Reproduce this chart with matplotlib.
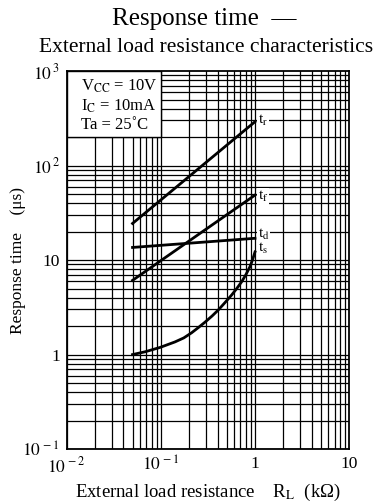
import numpy as np
import matplotlib
matplotlib.use("Agg")
import matplotlib.pyplot as plt
from matplotlib.patches import Rectangle

plt.rcParams['font.family'] = ['Liberation Serif', 'DejaVu Serif']
plt.rcParams['mathtext.fontset'] = 'stix'

# Load resistance (kOhm) and response times (us)
r_lin = [0.05, 1.0]
t_r = [24.4, 291.0]
t_f = [6.1, 48.7]
t_d = [13.6, 17.0]
r_s = [0.05, 0.068, 0.098, 0.141, 0.175, 0.212, 0.25, 0.294, 0.35, 0.407,
       0.48, 0.565, 0.64, 0.721, 0.8, 0.883, 0.94, 1.0]
t_s = [1.0, 1.07, 1.19, 1.36, 1.50, 1.70, 1.93, 2.2, 2.56, 2.96,
       3.55, 4.27, 5.0, 5.89, 7.0, 8.49, 10.0, 12.2]

x_ticks = [0.01, 0.1, 1, 10]
x_labels = [r'$10^{\,-2}$', r'$10^{\,-1}$', '1', '10']
y_ticks = [0.1, 1, 10, 100, 1000]
y_labels = [r'$10^{\,-1}$', '1', '10', r'$10^{\,2}$', r'$10^{\,3}$']

fig = plt.figure(figsize=(3.75, 5.04), dpi=100)
ax = fig.add_axes([0.178, 0.109, 0.753, 0.750])
ax.set_xscale('log')
ax.set_yscale('log')
ax.set_xlim(0.01, 10)
ax.set_ylim(0.1, 1000)

# dense log grid
for d in [0.01, 0.1, 1]:
    for m in range(1, 10):
        ax.axvline(d * m, color='black', lw=0.9, zorder=1)
for d in [0.1, 1, 10, 100]:
    for m in range(1, 10):
        ax.axhline(d * m, color='black', lw=0.9, zorder=1)

# condition box
ax.add_patch(Rectangle((0.01, 200), 0.09, 800, facecolor='white',
                       edgecolor='black', lw=1.0, zorder=2))
box_kw = dict(fontsize=12, va='center', ha='left', zorder=3)
ax.text(0.0143, 698, r'V$_{\rm CC}$ = 10V', **box_kw)
ax.text(0.0143, 419, r'I$_{\rm C}$ = 10mA', **box_kw)
ax.text(0.0143, 268, 'Ta = 25˚C', **box_kw)

lw = 2.0
ax.plot(r_lin, t_r, color='black', lw=lw, zorder=4)
ax.plot(r_lin, t_f, color='black', lw=lw, zorder=4)
ax.plot(r_lin, t_d, color='black', lw=lw, zorder=4)
ax.plot(r_s, t_s, color='black', lw=lw, zorder=4, solid_joinstyle='round')

lab_kw = dict(fontsize=11, va='center', ha='left', zorder=5,
              bbox=dict(facecolor='white', edgecolor='none', pad=0.5))
ax.text(1.07, 300, r't$_{\rm r}$', **lab_kw)
ax.text(1.07, 47, r't$_{\rm f}$', **lab_kw)
ax.text(1.07, 18.5, r't$_{\rm d}$', **lab_kw)
ax.text(1.07, 13.2, r't$_{\rm s}$', **lab_kw)

ax.set_xticks(x_ticks)
ax.set_xticklabels(x_labels, fontsize=12.5)
ax.set_yticks(y_ticks)
ax.set_yticklabels(y_labels, fontsize=12.5)
ax.minorticks_off()
ax.tick_params(length=0, pad=5)
for s in ax.spines.values():
    s.set_linewidth(1.3)
    s.set_zorder(6)

ax.set_ylabel('Response time    (μs)', fontsize=12.5)
ax.yaxis.set_label_coords(-0.145, 0.5)
ax.set_xlabel(r'External load resistance    R$_{\rm L}$  (kΩ)', fontsize=13.5, labelpad=4)

fig.text(0.545, 0.962, 'Response time  —', fontsize=18, ha='center', va='center')
fig.text(0.55, 0.905, 'External load resistance characteristics', fontsize=15.5,
         ha='center', va='center')

fig.savefig('out.png', dpi=100)
